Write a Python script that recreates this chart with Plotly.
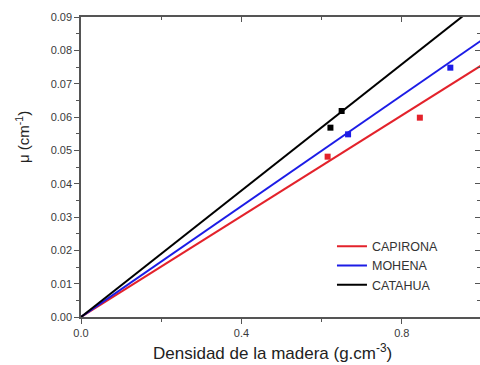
import plotly.graph_objects as go

# measured points (density g/cm3, mu cm-1)
capirona_x = [0.615, 0.845]
capirona_y = [0.0481, 0.0598]
mohena_x = [0.666, 0.921]
mohena_y = [0.0548, 0.0748]
catahua_x = [0.622, 0.650]
catahua_y = [0.0568, 0.0618]

# fitted lines through the origin
fit_x = [0.0, 1.0]
capirona_fit = [0.0, 0.0756]
mohena_fit = [0.0, 0.0831]
catahua_fit = [0.0, 0.0948]

names = ["CAPIRONA", "MOHENA", "CATAHUA"]
colors = ["#e3222b", "#1c1ce6", "#000000"]

fig = go.Figure()
fits = [capirona_fit, mohena_fit, catahua_fit]
pts = [(capirona_x, capirona_y), (mohena_x, mohena_y), (catahua_x, catahua_y)]

for name, col, fy in zip(names, colors, fits):
    fig.add_trace(go.Scatter(x=fit_x, y=fy, mode="lines", name=name,
                             line=dict(color=col, width=2)))
for name, col, (px_, py_) in zip(names, colors, pts):
    fig.add_trace(go.Scatter(x=px_, y=py_, mode="markers", showlegend=False,
                             marker=dict(symbol="square", size=6, color=col)))

# dummy trace for mirrored inward ticks on top/right
fig.add_trace(go.Scatter(x=[None], y=[None], xaxis="x2", yaxis="y2", showlegend=False))

axfont = dict(family="Liberation Sans, Arial", size=11, color="#3a3a3a")
fig.update_layout(
    width=480, height=365,
    margin=dict(l=81, r=0, t=17, b=48),
    paper_bgcolor="white", plot_bgcolor="white",
    font=dict(family="Liberation Sans, Arial", color="#333"),
    xaxis=dict(range=[0, 0.995], tickvals=[0, 0.4, 0.8], ticktext=["0.0", "0.4", "0.8"],
               ticks="outside", ticklen=5, tickcolor="#555", showline=True, linecolor="#555",
               linewidth=1.5, showgrid=False, zeroline=False, tickfont=axfont, automargin=False,
               minor=dict(dtick=0.2, tick0=0, ticks="outside", ticklen=3, tickcolor="#555")),
    yaxis=dict(range=[0, 0.09], dtick=0.01, tickformat=".2f",
               ticks="outside", ticklen=5, tickcolor="#555", showline=True, linecolor="#555",
               linewidth=1.5, showgrid=False, zeroline=False, tickfont=axfont, automargin=False,
               minor=dict(dtick=0.005, ticks="outside", ticklen=3, tickcolor="#555")),
    xaxis2=dict(overlaying="x", side="top", range=[0, 0.995], tickvals=[0, 0.4, 0.8],
                showticklabels=False, ticks="inside", ticklen=5, tickcolor="#555", automargin=False,
                showline=True, linecolor="#555", linewidth=1.5, showgrid=False, zeroline=False,
                minor=dict(dtick=0.2, tick0=0, ticks="inside", ticklen=3, tickcolor="#555")),
    yaxis2=dict(overlaying="y", side="right", range=[0, 0.09], dtick=0.01, automargin=False,
                showticklabels=False, ticks="inside", ticklen=5, tickcolor="#555",
                showline=True, linecolor="#555", linewidth=1.5, showgrid=False, zeroline=False,
                minor=dict(dtick=0.005, ticks="inside", ticklen=3, tickcolor="#555")),
    legend=dict(x=0.629, y=0.285, xanchor="left", yanchor="top", bgcolor="rgba(0,0,0,0)",
                font=dict(size=12.5, color="#333"), itemwidth=30, tracegroupgap=0),
)

# axis titles placed as annotations to match the original positions
fig.add_annotation(text="Densidad de la madera (g.cm<sup>-3</sup>)", xref="paper", yref="paper",
                   x=0.481, y=-0.117, xanchor="center", yanchor="middle", showarrow=False,
                   font=dict(size=17, color="#222"))
fig.add_annotation(text="μ (cm<sup>-1</sup>)", xref="paper", yref="paper", textangle=-90,
                   x=-0.148, y=0.6, xanchor="center", yanchor="middle", showarrow=False,
                   font=dict(size=15, color="#222"))

# drop the default page margin so the figure sits at the window's corner
fix = ("document.body.style.margin='0';document.body.style.overflow='hidden';"
       "Plotly.relayout('{plot_id}', {width: 480, height: 365});")
fig.write_html("out.html", post_script=fix, config={"displayModeBar": False})
